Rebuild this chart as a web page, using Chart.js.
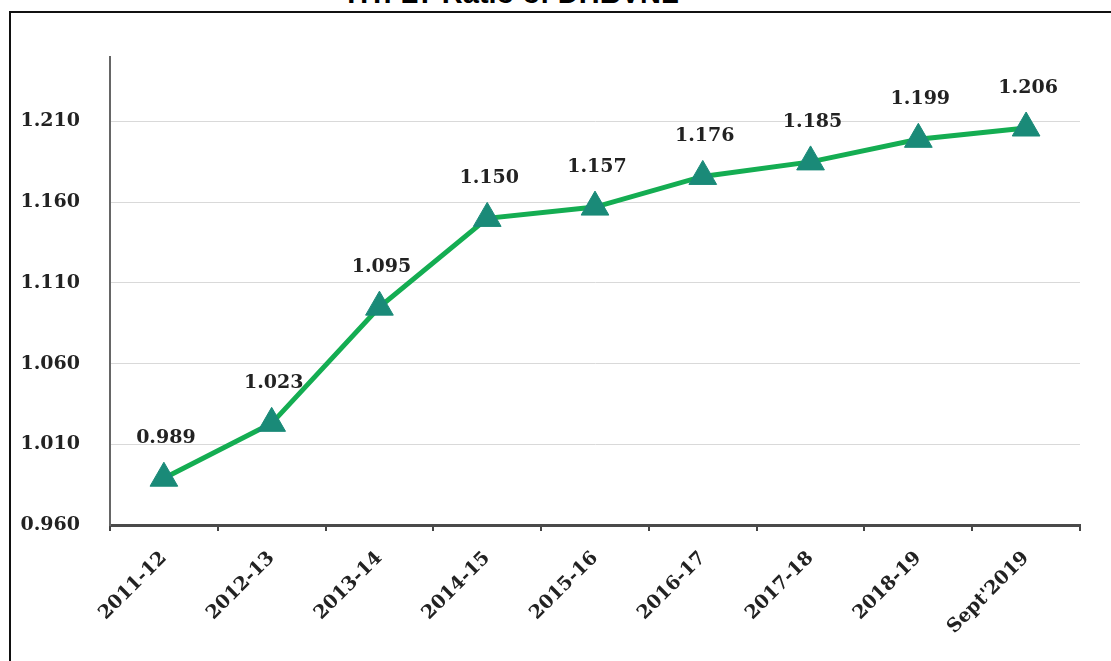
<!DOCTYPE html>
<html>
<head>
<meta charset="utf-8">
<script src="https://cdn.jsdelivr.net/npm/chart.js@4/dist/chart.umd.min.js"></script>
<style>
  html, body { margin: 0; padding: 0; background: #fff; overflow: hidden; }
  body { width: 1111px; height: 661px; position: relative; }
  #frame {
    position: absolute; left: 9px; top: 11px; width: 1200px; height: 800px;
    border: 2px solid #111; box-sizing: border-box;
  }
  #title {
    position: absolute; left: 0; width: 1026px; top: -21px;
    text-align: center; font: bold 29px "Liberation Sans", Arial, sans-serif;
    line-height: 29px; color: #000; white-space: nowrap;
  }
  #wrap { position: absolute; left: 0; top: 0; width: 1111px; height: 661px; }
</style>
</head>
<body>
<div id="frame"></div>
<div id="title">HT: LT Ratio of DHBVNL</div>
<div id="wrap"><canvas id="ratioChart"></canvas></div>
<script>
document.addEventListener("DOMContentLoaded", () => {
    // Años y relación HT:LT
    const years = ['2011-12', '2012-13', '2013-14', '2014-15', '2015-16', '2016-17', '2017-18', '2018-19', "Sept'2019"];
    const ratio = [0.989, 1.023, 1.095, 1.150, 1.157, 1.176, 1.185, 1.199, 1.206];
    const yTicks = [0.960, 1.010, 1.060, 1.110, 1.160, 1.210];

    const serif = '"DejaVu Serif", "Liberation Serif", serif';

    // Etiquetas de valor encima de cada triángulo
    const valueLabels = {
        id: 'valueLabels',
        afterDatasetsDraw(chart) {
            const ctx = chart.ctx;
            const meta = chart.getDatasetMeta(0);
            ctx.save();
            ctx.font = 'bold 19px ' + serif;
            ctx.fillStyle = '#222';
            ctx.textAlign = 'center';
            ctx.textBaseline = 'middle';
            meta.data.forEach((pt, i) => {
                ctx.fillText(ratio[i].toFixed(3), pt.x + 2, pt.y - 40);
            });
            ctx.restore();
        }
    };

    new Chart(document.getElementById('ratioChart').getContext('2d'), {
        type: 'line',
        data: {
            labels: years,
            datasets: [{
                data: ratio,
                borderColor: '#14ad52',
                borderWidth: 5,
                tension: 0,
                fill: false,
                pointStyle: 'triangle',
                pointRadius: 16,
                pointHoverRadius: 16,
                pointBackgroundColor: '#1a8a78',
                pointBorderColor: '#1a8a78',
                pointBorderWidth: 1
            }]
        },
        options: {
            responsive: false,
            animation: false,
            events: [],
            layout: { padding: { top: 57, right: 31, left: 0, bottom: 0 } },
            plugins: {
                legend: { display: false },
                tooltip: { enabled: false }
            },
            scales: {
                x: {
                    offset: true,
                    afterFit: (scale) => { scale.height = 136; },
                    border: { color: '#4a4a4a', width: 3 },
                    grid: {
                        offset: true,
                        drawOnChartArea: false,
                        drawTicks: true,
                        tickLength: 6,
                        color: '#444',
                        lineWidth: 2
                    },
                    ticks: {
                        minRotation: 45,
                        maxRotation: 45,
                        padding: 16,
                        color: '#222',
                        font: { family: serif, size: 19, weight: 'bold' }
                    }
                },
                y: {
                    min: 0.96,
                    max: 1.25,
                    afterFit: (scale) => { scale.width = 110; },
                    afterBuildTicks: (scale) => { scale.ticks = yTicks.map(v => ({ value: v })); },
                    border: { color: '#666', width: 2 },
                    grid: { color: '#d9d9d9', lineWidth: 1, drawTicks: false },
                    ticks: {
                        padding: 30,
                        color: '#222',
                        font: { family: serif, size: 19, weight: 'bold' },
                        callback: (v) => Number(v).toFixed(3)
                    }
                }
            }
        },
        plugins: [valueLabels]
    });
});
</script>
<script>
// tamaño fijo del lienzo
const c = document.getElementById('ratioChart');
c.width = 1111; c.height = 661;
c.style.width = '1111px'; c.style.height = '661px';
</script>
</body>
</html>
